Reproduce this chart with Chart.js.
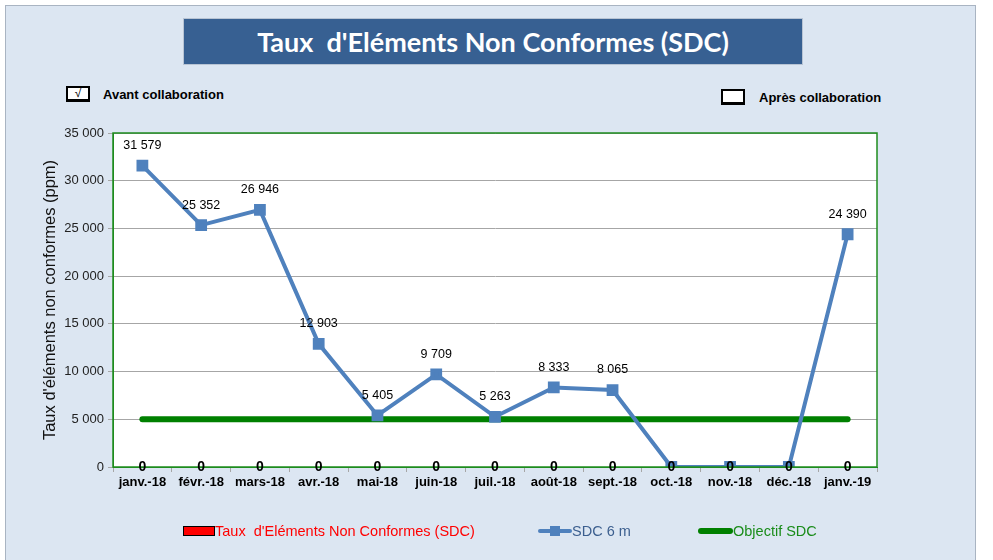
<!DOCTYPE html>
<html>
<head>
<meta charset="utf-8">
<script src="https://cdn.jsdelivr.net/npm/chart.js@4"></script>
<style>
    body { margin: 0; background: #ffffff; font-family: "Liberation Sans", Arial, sans-serif; }
    #frame {
        position: absolute; left: 5px; top: 5px; width: 971px; height: 560px;
        background: #dce6f2; border: 1px solid #a9b4c2; box-sizing: border-box;
    }
    #chartWrap { position: absolute; left: 0; top: 0; width: 993px; height: 560px; }
    #titleBox {
        position: absolute; left: 183px; top: 18px; width: 620px; height: 47px;
        background: #376092; border: 1px solid #b8c4d4; box-sizing: border-box;
        color: #fff; font-family: Lato, "Open Sans", sans-serif; font-weight: bold;
        font-size: 27px; text-align: center; line-height: 45px; white-space: pre;
    }
    .check {
        position: absolute; width: 20px; height: 11px; background: #fff;
        border: 2px solid #000; border-right-width: 2px; border-bottom-width: 3px;
        font-size: 12px; line-height: 11px; text-align: center; color: #000;
    }
    .checkText { position: absolute; font-size: 13px; font-weight: bold; color: #000; }
    #legend { position: absolute; left: 0; top: 521px; width: 993px; height: 20px; }
    .legItem { position: absolute; top: 0; font-size: 14.5px; line-height: 20px; white-space: pre; }
</style>
</head>
<body>
<div id="frame"></div>
<div id="titleBox">Taux  d'Eléments Non Conformes (SDC)</div>
<div class="check" style="left:66px; top:86px;">&#8730;</div>
<div class="checkText" style="left:103px; top:87px;">Avant collaboration</div>
<div class="check" style="left:721px; top:89px;"></div>
<div class="checkText" style="left:759px; top:90px;">Après collaboration</div>
<div id="chartWrap"><canvas id="mainChart" width="993" height="560"></canvas></div>
<div id="legend"></div>

<script>
const months = ['janv.-18', 'févr.-18', 'mars-18', 'avr.-18', 'mai-18', 'juin-18', 'juil.-18',
    'août-18', 'sept.-18', 'oct.-18', 'nov.-18', 'déc.-18', 'janv.-19'];
const tauxSdc = [0, 0, 0, 0, 0, 0, 0, 0, 0, 0, 0, 0, 0];
const sdc6m = [31579, 25352, 26946, 12903, 5405, 9709, 5263, 8333, 8065, 0, 0, 0, 24390];
const objectifSdc = [5000, 5000, 5000, 5000, 5000, 5000, 5000, 5000, 5000, 5000, 5000, 5000, 5000];
const yTicks = [0, 5000, 10000, 15000, 20000, 25000, 30000, 35000];

function formatNum(v) {
    return String(v).replace(/\B(?=(\d{3})+(?!\d))/g, ' ');
}

// white plot area + green frame
const plotFrame = {
    id: 'plotFrame',
    beforeDraw(chart) {
        const { ctx, chartArea: a } = chart;
        ctx.save();
        ctx.fillStyle = '#ffffff';
        ctx.fillRect(a.left, a.top, a.right - a.left, a.bottom - a.top);
        ctx.restore();
    },
    afterDatasetsDraw(chart) {
        const { ctx, chartArea: a } = chart;
        ctx.save();
        ctx.strokeStyle = '#1e8c1e';
        ctx.lineWidth = 1.5;
        ctx.strokeRect(a.left, a.top, a.right - a.left, a.bottom - a.top);
        ctx.restore();
    }
};

// value labels
const valueLabels = {
    id: 'valueLabels',
    afterDraw(chart) {
        const ctx = chart.ctx;
        ctx.save();
        ctx.textAlign = 'center';
        ctx.textBaseline = 'middle';
        ctx.fillStyle = '#000';

        const lineMeta = chart.getDatasetMeta(1);
        ctx.font = '12.5px "Liberation Sans", Arial, sans-serif';
        lineMeta.data.forEach((pt, i) => {
            if (sdc6m[i] === 0) return;
            ctx.fillText(formatNum(sdc6m[i]), pt.x, pt.y - 20);
        });

        const barMeta = chart.getDatasetMeta(0);
        ctx.font = 'bold 14px "Liberation Sans", Arial, sans-serif';
        barMeta.data.forEach((bar, i) => {
            ctx.fillText(formatNum(tauxSdc[i]), bar.x, bar.y);
        });
        ctx.restore();
    }
};

const ctx = document.getElementById('mainChart').getContext('2d');
const mainChart = new Chart(ctx, {
    type: 'bar',
    data: {
        labels: months,
        datasets: [{
            label: "Taux  d'Eléments Non Conformes (SDC)",
            data: tauxSdc,
            backgroundColor: '#ff0000',
            borderColor: '#000',
            borderWidth: 0,
            order: 3
        }, {
            type: 'line',
            label: 'SDC 6 m',
            data: sdc6m,
            borderColor: '#4f81bd',
            backgroundColor: '#4f81bd',
            borderWidth: 4,
            pointStyle: 'rect',
            pointRadius: 5.5,
            pointHoverRadius: 5.5,
            tension: 0,
            order: 1
        }, {
            type: 'line',
            label: 'Objectif SDC',
            data: objectifSdc,
            borderColor: '#008000',
            borderWidth: 6,
            borderCapStyle: 'round',
            pointRadius: 0,
            tension: 0,
            order: 2
        }]
    },
    options: {
        responsive: false,
        animation: false,
        layout: { padding: { left: 41, right: 116, top: 133, bottom: 63 } },
        plugins: {
            legend: { display: false },
            tooltip: { enabled: false }
        },
        scales: {
            x: {
                offset: true,
                afterFit: (scale) => { scale.height = 30; },
                grid: { display: true, drawOnChartArea: false, offset: true, color: '#a6a6a6', tickLength: 5 },
                border: { color: '#1e8c1e' },
                ticks: {
                    color: '#000',
                    font: { family: '"Liberation Sans", Arial, sans-serif', size: 13, weight: 'bold' },
                    maxRotation: 0,
                    autoSkip: false,
                    padding: 3
                }
            },
            y: {
                min: 0,
                max: 35000,
                afterFit: (scale) => { scale.width = 72; },
                afterBuildTicks: (scale) => { scale.ticks = yTicks.map(v => ({ value: v })); },
                grid: { color: '#a6a6a6', tickLength: 5 },
                border: { color: '#1e8c1e' },
                ticks: {
                    color: '#222',
                    font: { family: '"Liberation Sans", Arial, sans-serif', size: 13 },
                    padding: 4,
                    callback: (v) => formatNum(v)
                },
                title: {
                    display: true,
                    text: "Taux d'éléments non conformes (ppm)",
                    color: '#111',
                    font: { family: '"Liberation Sans", Arial, sans-serif', size: 16.5 },
                    padding: 0
                }
            }
        }
    },
    plugins: [plotFrame, valueLabels]
});

// legend built from the datasets
function buildLegend() {
    const legend = document.getElementById('legend');
    const items = [
        { x: 183, color: '#ff0000', kind: 'box', text: mainChart.data.datasets[0].label },
        { x: 538, color: '#3c5f8f', kind: 'marker', text: mainChart.data.datasets[1].label },
        { x: 698, color: '#1a8c1a', kind: 'line', text: mainChart.data.datasets[2].label }
    ];
    items.forEach(it => {
        const div = document.createElement('div');
        div.className = 'legItem';
        div.style.left = it.x + 'px';
        let sym;
        if (it.kind === 'box') {
            sym = '<span style="display:inline-block;width:30px;height:8px;background:#ff0000;border:1px solid #000;vertical-align:middle;margin-top:-2px;"></span>';
        } else if (it.kind === 'marker') {
            sym = '<span style="display:inline-block;position:relative;width:34px;height:10px;vertical-align:middle;margin-top:-2px;">' +
                '<span style="position:absolute;left:0;top:3px;width:34px;height:4px;background:#4f81bd;border-radius:2px;"></span>' +
                '<span style="position:absolute;left:12px;top:0;width:10px;height:10px;background:#4f81bd;"></span></span>';
        } else {
            sym = '<span style="display:inline-block;width:35px;height:6px;background:#008000;border-radius:3px;vertical-align:middle;margin-top:-2px;"></span>';
        }
        div.innerHTML = sym + '<span style="color:' + it.color + '">' + it.text + '</span>';
        legend.appendChild(div);
    });
}
buildLegend();
</script>
</body>
</html>
